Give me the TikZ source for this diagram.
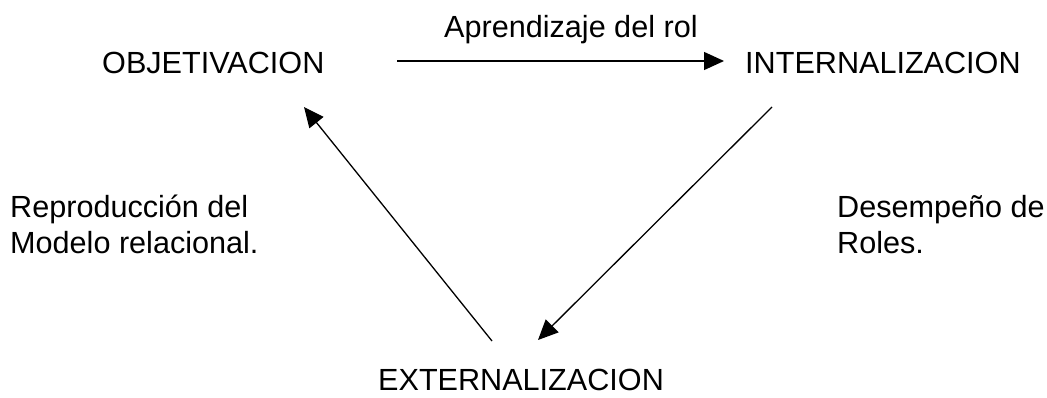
\documentclass[tikz,border=0pt]{standalone}
\usepackage{fontspec}
\setmainfont{Liberation Sans}
\usetikzlibrary{arrows.meta}
\begin{document}
\begin{tikzpicture}[x=1pt,y=-1pt,
  lbl/.style={anchor=base west,inner sep=0pt,font=\fontsize{30.6}{35}\selectfont},
  conn/.style={line width=1.3pt,-{Triangle[length=20pt,width=18pt]}}]
\useasboundingbox (0,0) rectangle (1047,398);
\node[lbl] (obj) at (102,74) {OBJETIVACION};
\node[lbl] (int) at (745,74) {INTERNALIZACION};
\node[lbl] (ext) at (378,390) {EXTERNALIZACION};
\node[lbl] (apr) at (444,38) {Aprendizaje del rol};
\node[lbl] (rep1) at (10,218) {Reproducción del};
\node[lbl] (rep2) at (10,254) {Modelo relacional.};
\node[lbl] (des1) at (837,218) {Desempeño de};
\node[lbl] (des2) at (837,254) {Roles.};
\coordinate (a1) at (397,61);
\coordinate (a2) at (724,61);
\coordinate (b1) at (772,107);
\coordinate (b2) at (538,340);
\coordinate (c1) at (492,341);
\coordinate (c2) at (304,107);
\draw[conn] (a1) -- (a2);
\draw[conn] (b1) -- (b2);
\draw[conn] (c1) -- (c2);
\end{tikzpicture}
\end{document}
